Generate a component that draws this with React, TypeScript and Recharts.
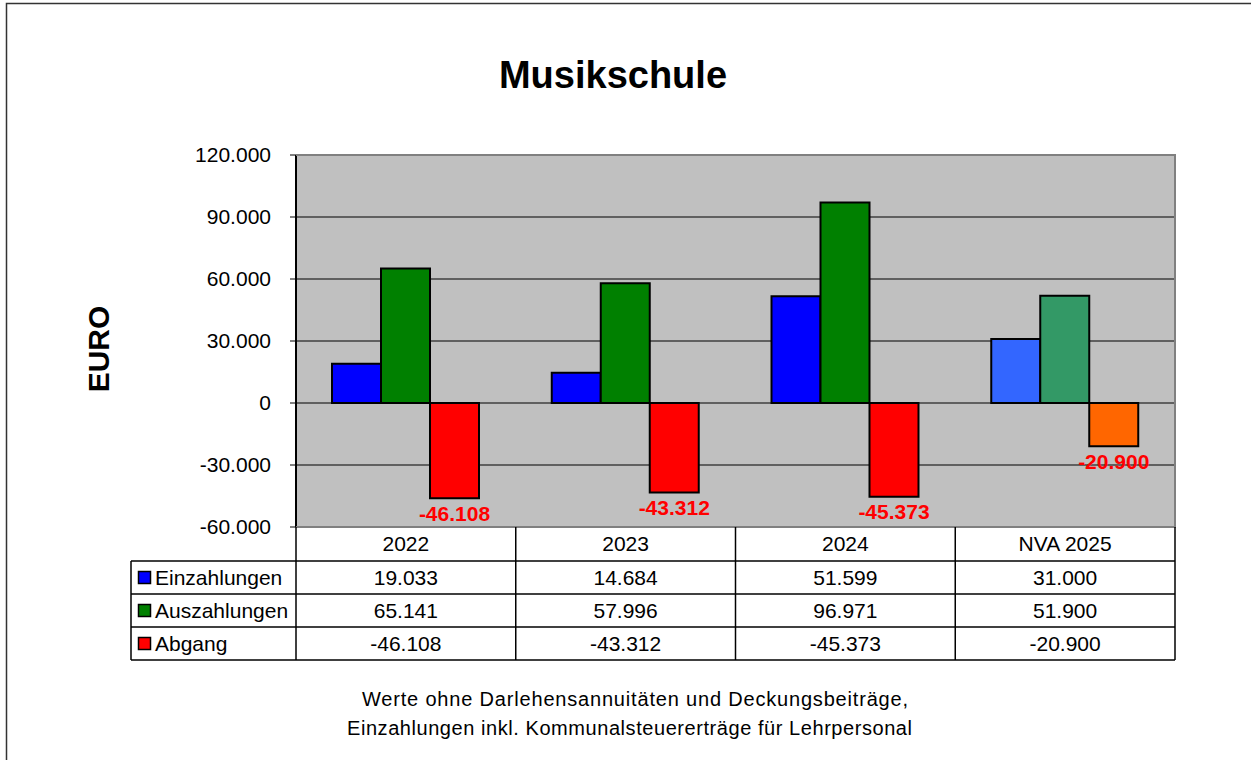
import React from 'react';
import { BarChart, Bar, XAxis, YAxis, CartesianGrid, Cell, LabelList } from 'recharts';

const categories = ['2022', '2023', '2024', 'NVA 2025'];
const einzahlungen = [19033, 14684, 51599, 31000];
const auszahlungen = [65141, 57996, 96971, 51900];
const abgang = [-46108, -43312, -45373, -20900];
const yTicks = [-60000, -30000, 0, 30000, 60000, 90000, 120000];

const series = [
  { key: 'einzahlungen', name: 'Einzahlungen', values: einzahlungen, color: '#0000FF', forecast: '#3366FF' },
  { key: 'auszahlungen', name: 'Auszahlungen', values: auszahlungen, color: '#008000', forecast: '#339966' },
  { key: 'abgang', name: 'Abgang', values: abgang, color: '#FF0000', forecast: '#FF6600' },
];

const data = categories.map((category, i) => ({
  category,
  einzahlungen: einzahlungen[i],
  auszahlungen: auszahlungen[i],
  abgang: abgang[i],
}));

// German thousands separator
const de = (n: number) => {
  const s = Math.abs(n).toString().replace(/\B(?=(\d{3})+(?!\d))/g, '.');
  return (n < 0 ? '-' : '') + s;
};

const W = 1251;
const H = 760;
const PLOT_L = 296;
const PLOT_R = 1175;
const PLOT_T = 155;
const PLOT_B = 527;
const TABLE_L = 131;
const ROW_Y = [527, 561, 594, 627, 660];
const FONT = '"Liberation Sans", Arial, sans-serif';

const band = (PLOT_R - PLOT_L) / categories.length;
const colX = (i: number) => PLOT_L + band * i;

const CategoryTick = (props: any) => {
  const { x, y, payload } = props;
  return (
    <text x={x} y={y + 17} dy="0.355em" textAnchor="middle" fontSize={21} fontFamily={FONT} fill="#000">
      {payload.value}
    </text>
  );
};

const AbgangLabel = (props: any) => {
  const { x, y, width, height, value } = props;
  const bottom = Math.max(y, y + height);
  return (
    <text
      x={x + width / 2}
      y={bottom + 15}
      dy="0.355em"
      textAnchor="middle"
      fontSize={21}
      fontWeight="bold"
      fontFamily={FONT}
      fill="#FF0000"
    >
      {de(value)}
    </text>
  );
};

const Overlay = () => (
  <svg width={W} height={H} style={{ position: 'absolute', left: 0, top: 0, pointerEvents: 'none' }}>
    <rect x={6.5} y={3.5} width={W + 20} height={H + 20} fill="none" stroke="#333" strokeWidth={1.5} />
    <text x={613} y={88} textAnchor="middle" fontSize={38} fontWeight="bold" fontFamily={FONT}>
      Musikschule
    </text>
    <text
      x={0}
      y={0}
      transform="translate(109 349) rotate(-90)"
      textAnchor="middle"
      fontSize={30}
      fontWeight="bold"
      fontFamily={FONT}
    >
      EURO
    </text>

    {/* plot border */}
    <line x1={PLOT_L} y1={PLOT_T} x2={PLOT_R + 1} y2={PLOT_T} stroke="#808080" strokeWidth={2} />
    <line x1={PLOT_R} y1={PLOT_T} x2={PLOT_R} y2={PLOT_B} stroke="#808080" strokeWidth={2} />
    <line x1={PLOT_L} y1={PLOT_B} x2={PLOT_R + 1} y2={PLOT_B} stroke="#808080" strokeWidth={2} />

    {/* data table */}
    {categories.map((_, i) => (
      <line key={'v' + i} x1={colX(i)} y1={PLOT_B} x2={colX(i)} y2={ROW_Y[4]} stroke="#000" strokeWidth={1.5} />
    ))}
    <line x1={PLOT_R} y1={PLOT_B} x2={PLOT_R} y2={ROW_Y[4]} stroke="#000" strokeWidth={1.5} />
    <line x1={TABLE_L} y1={ROW_Y[1]} x2={TABLE_L} y2={ROW_Y[4]} stroke="#000" strokeWidth={1.5} />
    {ROW_Y.slice(1).map((y, i) => (
      <line key={'h' + i} x1={TABLE_L} y1={y} x2={PLOT_R} y2={y} stroke="#000" strokeWidth={1.5} />
    ))}
    {series.map((s, r) => {
      const cy = (ROW_Y[r + 1] + ROW_Y[r + 2]) / 2;
      return (
        <g key={s.key}>
          <rect x={138.5} y={cy - 6} width={12} height={12} fill={s.color} stroke="#000" strokeWidth={1.5} />
          <text x={155} y={cy} dy="0.355em" fontSize={21} fontFamily={FONT}>
            {s.name}
          </text>
          {s.values.map((v, i) => (
            <text key={i} x={colX(i) + band / 2} y={cy} dy="0.355em" textAnchor="middle" fontSize={21} fontFamily={FONT}>
              {de(v)}
            </text>
          ))}
        </g>
      );
    })}

    {/* footnote */}
    <text x={362} y={706} fontSize={20} fontFamily={FONT} textLength={546} lengthAdjust="spacing">
      Werte ohne Darlehensannuitäten und Deckungsbeiträge,
    </text>
    <text x={347} y={735} fontSize={20} fontFamily={FONT} textLength={565} lengthAdjust="spacing">
      Einzahlungen inkl. Kommunalsteuererträge für Lehrpersonal
    </text>
  </svg>
);

export default function App() {
  return (
    <div style={{ position: 'absolute', left: 0, top: 0, width: W, height: H, background: '#fff' }}>
      <BarChart
        width={W}
        height={H}
        data={data}
        barGap={0}
        margin={{ top: PLOT_T, right: W - PLOT_R, bottom: H - PLOT_B - 34, left: PLOT_L - 100 }}
      >
        <CartesianGrid vertical={false} stroke="#000" strokeWidth={1} fill="#C0C0C0" fillOpacity={1} />
        <XAxis
          dataKey="category"
          height={34}
          tickLine={false}
          axisLine={false}
          tickSize={0}
          tickMargin={0}
          tick={<CategoryTick />}
          interval={0}
        />
        <YAxis
          width={100}
          domain={[-60000, 120000]}
          ticks={yTicks}
          allowDataOverflow
          tickFormatter={de}
          tickSize={6}
          tickMargin={19}
          tick={{ fontSize: 21, fontFamily: FONT, fill: '#000' }}
          tickLine={{ stroke: '#000' }}
          axisLine={{ stroke: '#000', strokeWidth: 2 }}
        />
        {series.map((s) => (
          <Bar key={s.key} dataKey={s.key} name={s.name} barSize={49} stroke="#000" strokeWidth={2} isAnimationActive={false}>
            {data.map((_, i) => (
              <Cell key={i} fill={i === categories.length - 1 ? s.forecast : s.color} />
            ))}
            {s.key === 'abgang' && <LabelList dataKey="abgang" content={<AbgangLabel />} />}
          </Bar>
        ))}
      </BarChart>
      <Overlay />
    </div>
  );
}
